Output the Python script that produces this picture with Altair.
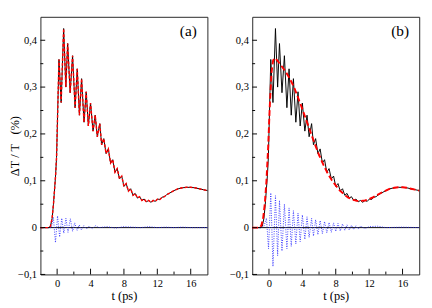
import altair as alt
import pandas as pd

# ---- data ----
black_t = [-2.0, -1.0, -0.8, -0.6, -0.44, -0.19, -0.07, 0.22, 0.48, 0.78, 1.04, 1.26, 1.56, 1.85, 2.15, 2.41, 2.67,
           2.93, 3.22, 3.48, 3.74, 4.00, 4.30, 4.56, 4.81, 5.11, 5.33, 5.59, 5.86, 6.13, 6.40, 6.66, 6.93, 7.20, 7.47,
           7.74, 8.00, 8.27, 8.54, 8.81, 9.08, 9.35, 9.62, 9.88, 10.15, 10.42, 10.69, 10.96, 11.23, 11.50, 11.77,
           12.03, 12.30, 12.57, 12.84, 13.10, 13.5, 14.0, 14.5, 15.0, 15.5, 16.0, 16.5, 17.0, 17.5, 18.0]
black_v = [0, 0, 0.003, 0.02, 0.05, 0.11, 0.15, 0.359, 0.267, 0.425, 0.300, 0.393, 0.288, 0.367, 0.256, 0.339, 0.240,
           0.318, 0.225, 0.290, 0.217, 0.266, 0.206, 0.240, 0.194, 0.222, 0.177, 0.190, 0.158, 0.168, 0.138, 0.145,
           0.118, 0.126, 0.104, 0.110, 0.088, 0.094, 0.078, 0.083, 0.069, 0.073, 0.063, 0.066, 0.058, 0.061, 0.055,
           0.058, 0.054, 0.058, 0.056, 0.061, 0.060, 0.065, 0.066, 0.070, 0.074, 0.079, 0.083, 0.085, 0.086, 0.086,
           0.085, 0.083, 0.081, 0.079]

# fit (a) follows the measured curve
fit_a_t = black_t
fit_a_v = black_v

# smooth fit (b)
fit_b_t = [-2.0, -1.1, -0.9, -0.7, -0.5, -0.3, -0.1, 0.1, 0.3, 0.5, 0.7, 1.0, 1.5, 2.0, 2.5, 3.0, 3.5, 4.0, 4.5,
           5.0, 5.5, 6.0, 6.5, 7.0, 7.5, 8.0, 8.5, 9.0, 9.5, 10.0, 10.5, 11.0, 11.5, 12.0, 12.5, 13.0, 13.5, 14.0,
           14.5, 15.0, 15.5, 16.0, 16.5, 17.0, 17.5, 18.0]
fit_b_v = [0, 0, 0.005, 0.02, 0.05, 0.10, 0.17, 0.26, 0.33, 0.357, 0.362, 0.357, 0.345, 0.333, 0.318, 0.300, 0.277,
           0.253, 0.228, 0.203, 0.178, 0.155, 0.135, 0.117, 0.102, 0.090, 0.079, 0.071, 0.064, 0.060, 0.057, 0.057,
           0.058, 0.061, 0.065, 0.070, 0.075, 0.079, 0.083, 0.085, 0.086, 0.086, 0.085, 0.083, 0.081, 0.079]

# residuals (blue dotted)
res_a_t = [-2.0, -1.0, -0.7, -0.45, -0.2, 0.05, 0.3, 0.55, 0.8, 1.05, 1.3, 1.58, 1.85, 2.1, 2.4, 2.65, 2.9, 3.2,
           3.5, 3.8, 4.2, 4.6, 5.0, 6.0, 7.0, 8.0, 9.0, 10.0, 11.0, 12.0, 13.0, 14.0, 15.0, 16.0, 17.0, 18.0]
res_a_v = [0, 0, 0.0, 0.022, -0.032, 0.025, -0.02, 0.02, -0.012, 0.02, -0.01, 0.019, -0.008, 0.01, -0.006, 0.006,
           -0.005, 0.004, -0.003, 0.003, -0.002, 0.004, 0.0, 0.002, -0.001, 0.002, 0.001, 0.0, 0.002, 0.0, 0.001,
           0.0, 0.001, 0.0, 0.0, 0.0]

res_b_t = [-2.0, -1.0, -0.6, -0.3, -0.05, 0.22, 0.48, 0.78, 1.04, 1.26, 1.56, 1.85, 2.15, 2.41, 2.67, 2.93, 3.22,
           3.48, 3.74, 4.00, 4.30, 4.56, 4.81, 5.11, 5.33, 5.59, 5.86, 6.13, 6.40, 6.66, 6.93, 7.20, 7.47, 7.74,
           8.00, 8.27, 8.54, 8.81, 9.08, 9.35, 9.62, 9.88, 10.15, 10.42, 10.69, 10.96, 11.5, 12.0, 13.0, 14.0,
           16.0, 18.0]
res_b_v = [0, 0, 0.003, 0.02, -0.045, 0.074, -0.083, 0.068, -0.06, 0.058, -0.05, 0.05, -0.045, 0.042, -0.04,
           0.036, -0.035, 0.031, -0.03, 0.027, -0.025, 0.023, -0.021, 0.02, -0.018, 0.017, -0.015, 0.015, -0.013,
           0.013, -0.011, 0.011, -0.01, 0.01, -0.008, 0.009, -0.007, 0.008, -0.006, 0.006, -0.005, 0.005, -0.004,
           0.004, -0.003, 0.003, -0.002, 0.002, 0.003, 0.0, 0.001, 0.0]

x_major = [0, 4, 8, 12, 16]
x_minor = [2, 6, 10, 14]
y_major = [-0.1, 0.0, 0.1, 0.2, 0.3, 0.4]
y_minor = [-0.05, 0.05, 0.15, 0.25, 0.35]
x_title = "t (ps)"
y_title = "\u0394T / T\u00a0\u00a0\u00a0(%)"
tags = ["(a)", "(b)"]

# ---- chart ----
W = 175
H = 270
FONT = "Liberation Serif"
xs = alt.Scale(domain=[-2, 18], nice=False, zero=False)
ys = alt.Scale(domain=[-0.1, 0.45], nice=False, zero=False)
ylab = "datum.value == 0 ? '0' : replace(format(datum.value, '.1f'), '.', ',')"

common = dict(ticks=False, domain=False, grid=False, labelFont=FONT, titleFont=FONT,
              labelFontSize=11, titleFontSize=13, titleFontWeight="normal",
              labelColor="black", titleColor="black")


def panel(fit_t, fit_v, res_t, res_v, tag, fit_width, fit_dash, show_title):
    black = pd.DataFrame({"t": black_t, "v": black_v})
    fit = pd.DataFrame({"t": fit_t, "v": fit_v})
    res = pd.DataFrame({"t": res_t, "v": res_v})
    xax = alt.Axis(values=x_major, title=x_title, labelPadding=4, format="d", titlePadding=1, **common)
    if show_title:
        yax = alt.Axis(values=y_major, title=y_title, labelPadding=4, labelExpr=ylab,
                       titleX=-20, titleY=H / 2, titleAngle=270, titleBaseline="bottom",
                       titleAlign="center", **common)
    else:
        yax = alt.Axis(values=y_major, title=None, labelPadding=4, labelExpr=ylab, **common)

    X = alt.X("t:Q", scale=xs, axis=xax)
    Y = alt.Y("v:Q", scale=ys, axis=yax)

    zero = alt.Chart(pd.DataFrame({"v": [0.0]})).mark_rule(color="black", strokeWidth=1).encode(y=Y)
    res_l = alt.Chart(res).mark_line(color="#2020ff", strokeWidth=0.9, strokeDash=[1, 1.5]).encode(x=X, y=Y)
    blk = alt.Chart(black).mark_line(color="black", strokeWidth=1).encode(x=X, y=Y)
    fit_l = alt.Chart(fit).mark_line(color="#ff0000", strokeWidth=fit_width, strokeDash=fit_dash).encode(x=X, y=Y)

    ymaj = alt.Chart(pd.DataFrame({"v": y_major})).mark_rule(color="black", strokeWidth=1).encode(
        y=Y, x=alt.value(0), x2=alt.value(5))
    ymin = alt.Chart(pd.DataFrame({"v": y_minor})).mark_rule(color="black", strokeWidth=1).encode(
        y=Y, x=alt.value(0), x2=alt.value(3))
    xmaj = alt.Chart(pd.DataFrame({"t": x_major})).mark_rule(color="black", strokeWidth=1).encode(
        x=X, y=alt.value(H), y2=alt.value(H - 6))
    xmin = alt.Chart(pd.DataFrame({"t": x_minor})).mark_rule(color="black", strokeWidth=1).encode(
        x=X, y=alt.value(H), y2=alt.value(H - 3))
    lab = alt.Chart(pd.DataFrame({"tag": [tag]})).mark_text(
        font=FONT, fontSize=16, color="black", align="center", baseline="middle").encode(
        text="tag:N", x=alt.value(W - 20), y=alt.value(15))

    return alt.layer(zero, res_l, blk, fit_l, ymaj, ymin, xmaj, xmin, lab).properties(width=W, height=H)


pa = panel(fit_a_t, fit_a_v, res_a_t, res_a_v, tags[0], 1.5, [3, 2], True)
pb = panel(fit_b_t, fit_b_v, res_b_t, res_b_v, tags[1], 2, [6, 3], False)

chart = alt.hconcat(pa, pb, spacing=18).configure(font=FONT).configure_view(
    stroke="#222222", strokeWidth=1
).properties(padding={"left": 0, "top": 1, "right": 0, "bottom": 0})

chart.save("out.html", embed_options={"renderer": "svg", "actions": False})
